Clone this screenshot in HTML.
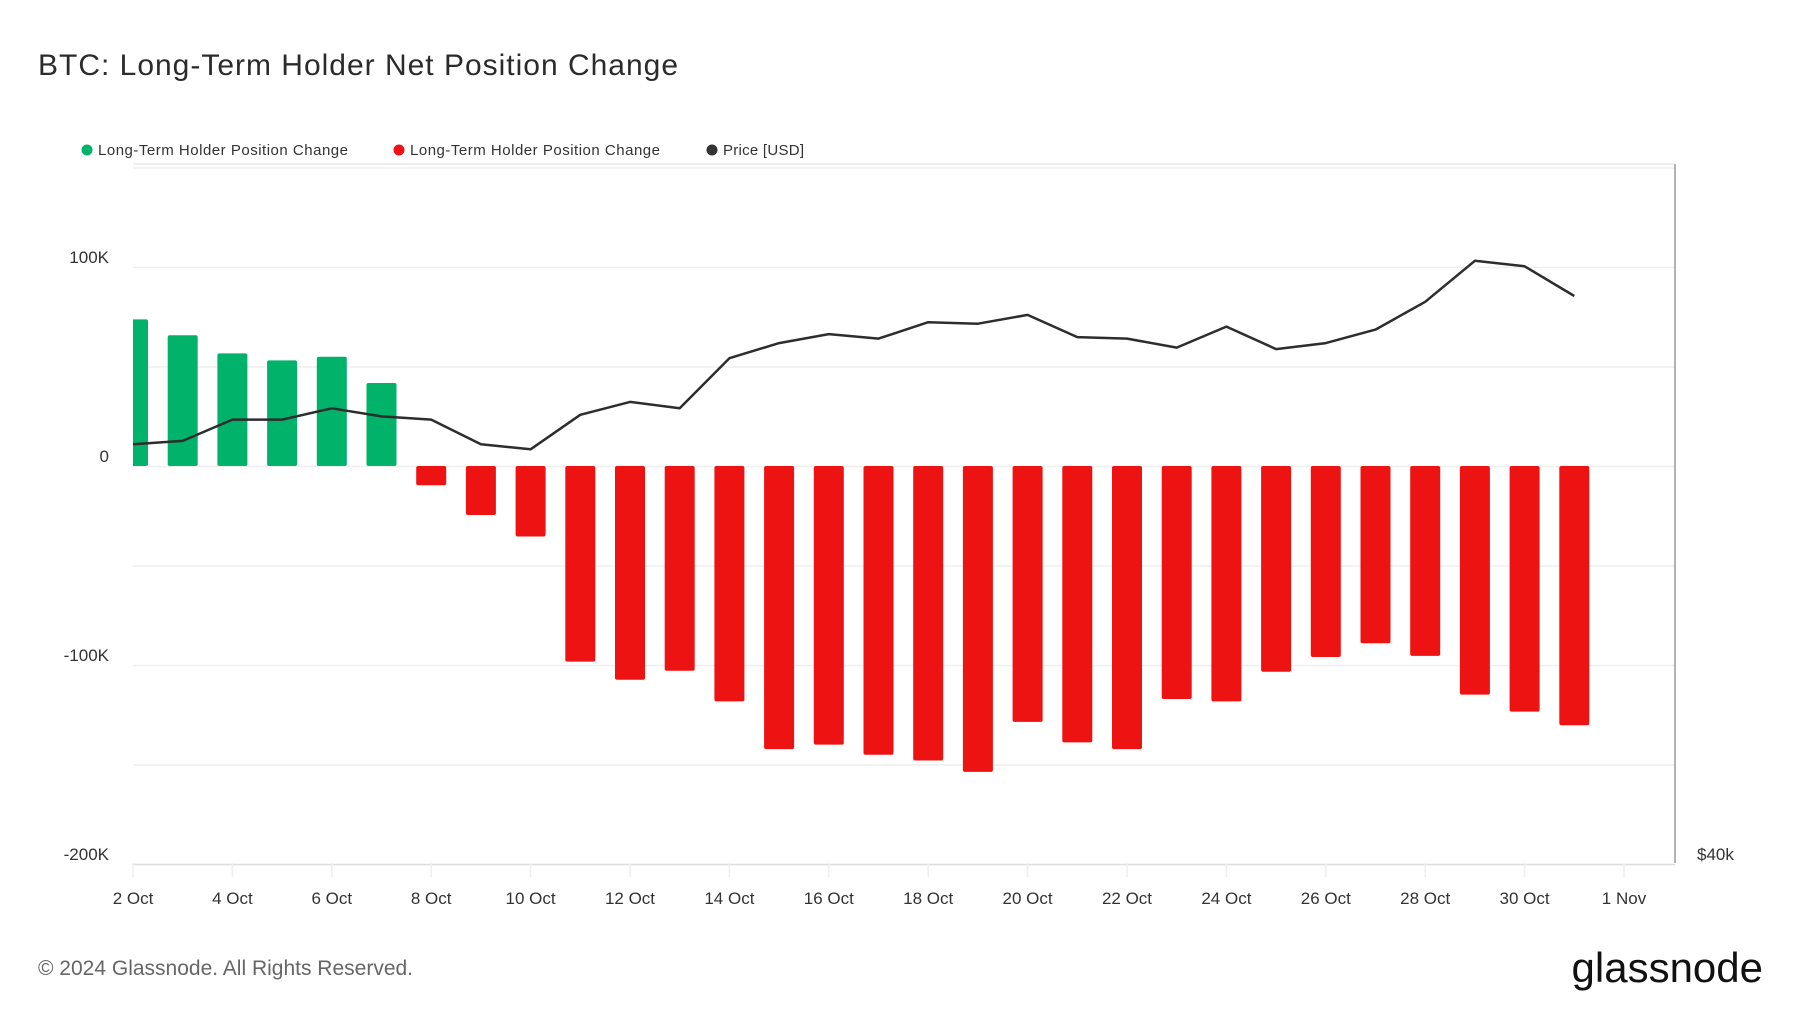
<!DOCTYPE html>
<html><head><meta charset="utf-8"><style>
html,body{margin:0;padding:0;background:#fff;}
svg{display:block;font-family:"Liberation Sans",sans-serif;}
</style></head><body>
<svg id="chart" width="1800" height="1013" viewBox="0 0 1800 1013">
<text x="38" y="75" font-size="30" fill="#2b2b2b" textLength="640">BTC: Long-Term Holder Net Position Change</text>
<g>
<circle cx="87" cy="150" r="5.5" fill="#00b26a"/>
<text x="98" y="155" font-size="15" fill="#333" textLength="250">Long-Term Holder Position Change</text>
<circle cx="399" cy="150" r="5.5" fill="#ee1111"/>
<text x="410" y="155" font-size="15" fill="#333" textLength="250">Long-Term Holder Position Change</text>
<circle cx="712" cy="150" r="5.5" fill="#333"/>
<text x="723" y="155" font-size="15" fill="#333" textLength="81">Price [USD]</text>
</g>
<defs><clipPath id="clip"><rect x="133" y="164" width="1542" height="699"/></clipPath></defs>
<g id="grid"></g>
<g id="bars" clip-path="url(#clip)"></g>
<g id="line"></g>
<g id="axes"></g>
<text x="38" y="975" font-size="21" fill="#666">© 2024 Glassnode. All Rights Reserved.</text>
<text x="1763" y="982" font-size="42" fill="#111" text-anchor="end">glassnode</text>
</svg>
<script>
const days = [2,3,4,5,6,7,8,9,10,11,12,13,14,15,16,17,18,19,20,21,22,23,24,25,26,27,28,29,30,31];
const positionChange = [73.7,65.7,56.6,53.1,54.9,41.7,-9.7,-24.6,-35.4,-98.3,-107.4,-102.9,-118.3,-142.3,-140,-145.1,-148,-153.7,-128.6,-138.9,-142.3,-117.1,-118.3,-103.4,-96,-89.1,-95.4,-114.9,-123.4,-130.3];
const price = [60.6,60.8,62.1,62.1,62.8,62.3,62.1,60.6,60.3,62.4,63.2,62.8,66.0,67.0,67.6,67.3,68.4,68.3,68.9,67.4,67.3,66.7,68.1,66.6,67.0,67.9,69.8,72.7,72.3,70.2];
const yTicks = [100,0,-100,-200];
const yTickLabels = ["100K","0","-100K","-200K"];
const xTickDays = [2,4,6,8,10,12,14,16,18,20,22,24,26,28,30,32];
const xTickLabels = ["2 Oct","4 Oct","6 Oct","8 Oct","10 Oct","12 Oct","14 Oct","16 Oct","18 Oct","20 Oct","22 Oct","24 Oct","26 Oct","28 Oct","30 Oct","1 Nov"];

(function(){
const NS="http://www.w3.org/2000/svg";
const L=133,R=1675,T=164,B=863;
const x=d=>133+(d-2)*49.7;
const y=v=>466-v*1.99;
const yp=p=>863-1008*Math.log(p/40);
function mk(tag,attrs,parent){const e=document.createElementNS(NS,tag);for(const k in attrs)e.setAttribute(k,attrs[k]);parent.appendChild(e);return e;}
const grid=document.getElementById('grid'),bars=document.getElementById('bars'),line=document.getElementById('line'),axes=document.getElementById('axes');
for(let v=150;v>=-200;v-=50){
  const g=mk('line',{x1:L,x2:R,y1:y(v)+0.5,y2:y(v)+0.5,stroke:v===-200?'#dcdcdc':'#efefef','stroke-width':1.5},grid);
  
  
}
const topB=mk('line',{x1:L,x2:R,y1:T,y2:T,stroke:'#e8e8e8','stroke-width':1.5},grid);


const ra=mk('line',{x1:R,x2:R,y1:T,y2:B,stroke:'#999','stroke-width':1.5},axes);


days.forEach((d,i)=>{
  const v=positionChange[i];const w=30;
  const y0=Math.min(y(0),y(v)),h=Math.abs(y(v)-y(0));
  const r=mk('rect',{x:x(d)-w/2,y:y0,width:w,height:h,rx:2,fill:v>=0?'#00b26a':'#ee1313'},bars);
  
  
});
const pts=days.map((d,i)=>x(d).toFixed(1)+','+yp(price[i]).toFixed(1)).join(' ');
const pl=mk('polyline',{points:pts,fill:'none',stroke:'#2d2d2d','stroke-width':2.5,'stroke-linejoin':'round'},line);


yTicks.forEach((v,i)=>{
  const t=mk('text',{x:109,y:y(v)-4,'font-size':17,fill:'#333','text-anchor':'end'},axes);t.textContent=yTickLabels[i];
  
  
});
xTickDays.forEach((d,i)=>{
  const tk=mk('line',{x1:x(d),x2:x(d),y1:B,y2:B+14,stroke:'#eee','stroke-width':1.5},axes);
  
  
  const t=mk('text',{x:x(d),y:904,'font-size':17,fill:'#333','text-anchor':'middle'},axes);t.textContent=xTickLabels[i];
  
  
});
const pt=mk('text',{x:1697,y:860,'font-size':17,fill:'#333'},axes);pt.textContent='$40k';


})();
</script>
</body></html>
